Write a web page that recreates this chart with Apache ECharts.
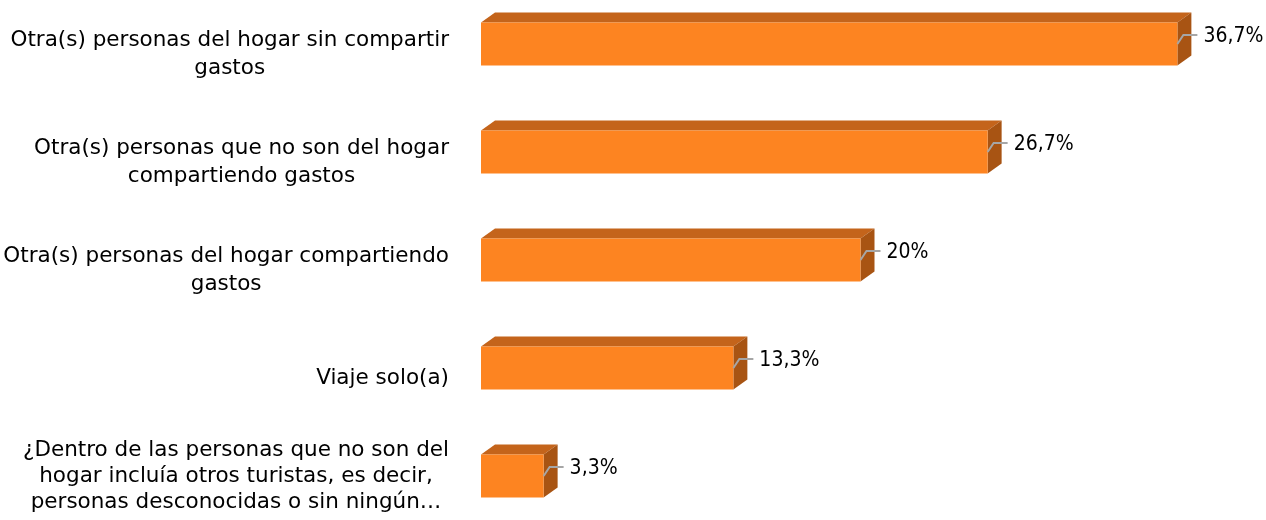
<!DOCTYPE html>
<html>
<head>
<meta charset="utf-8">
<script src="https://cdn.jsdelivr.net/npm/echarts@6/dist/echarts.min.js"></script>
<style>html,body{margin:0;padding:0;background:#fff;overflow:hidden;width:1266px;height:520px;}#c{position:absolute;left:0;top:-10px;width:1266px;height:540px;}</style>
</head>
<body>
<div id="c"></div>
<script>
const categories = [
  "Otra(s) personas del hogar sin compartir\ngastos",
  "Otra(s) personas que no son del hogar\ncompartiendo gastos",
  "Otra(s) personas del hogar compartiendo\ngastos",
  "Viaje solo(a)",
  "¿Dentro de las personas que no son del\nhogar incluía otros turistas, es decir,\npersonas desconocidas o sin ningún…"
];
const values = [36.7, 26.7, 20, 13.3, 3.3];
const valueLabels = ["36,7%", "26,7%", "20%", "13,3%", "3,3%"];

const FRONT = '#FD8421', TOP = '#C4641B', SIDE = '#A85413', LEAD = '#A6A6A6';
const DX = 14, DY = 10;

const chart = echarts.init(document.getElementById('c'), null, {renderer: 'canvas'});
chart.setOption({
  animation: false,
  grid: {left: 481, right: 26, top: 0, bottom: 0, containLabel: false},
  xAxis: {type: 'value', min: 0, max: 40, show: false},
  yAxis: {
    type: 'category', data: categories, inverse: true,
    axisLine: {show: false}, axisTick: {show: false}, splitLine: {show: false},
    axisLabel: {
      margin: 32, align: 'right', padding: [20, 0, 0, 0],
      formatter: function (v, i) {
        const lines = v.split('\n');
        if (lines.length >= 3) {
          return lines.map(l => '{c|' + l + '}').join('\n') + '\n{e| }';
        }
        return lines.map(l => '{a|' + l + '}').join('\n');
      },
      rich: {
        a: {align: 'center', fontFamily: 'DejaVu Sans', fontSize: 21.5, lineHeight: 28, color: '#000'},
        c: {align: 'center', fontFamily: 'DejaVu Sans', fontSize: 21.5, lineHeight: 26, color: '#000'},
        e: {fontSize: 10, lineHeight: 20}
      }
    }
  },
  series: [{
    type: 'custom',
    data: values.map((v, i) => [v, i]),
    renderItem: function (params, api) {
      const v = api.value(0), idx = api.value(1);
      const p0 = api.coord([0, idx]);
      const p1 = api.coord([v, idx]);
      const h = api.size([0, 1])[1] * 0.4;
      const xl = p0[0], xr = p1[0], yc = p1[1];
      const yt = yc - h / 2, yb = yc + h / 2;
      return {
        type: 'group',
        children: [
          {type: 'polygon', shape: {points: [[xl, yt], [xl + DX, yt - DY], [xr + DX, yt - DY], [xr, yt]]}, style: {fill: TOP}},
          {type: 'polygon', shape: {points: [[xr, yt], [xr + DX, yt - DY], [xr + DX, yb - DY], [xr, yb]]}, style: {fill: SIDE}},
          {type: 'rect', shape: {x: xl, y: yt, width: xr - xl, height: h}, style: {fill: FRONT}},
          {type: 'polyline', shape: {points: [[xr, yc], [xr + 6, yc - 9], [xr + 20, yc - 9]]}, style: {stroke: LEAD, lineWidth: 2, fill: null}},
          {type: 'text', style: {x: xr + 26, y: yc - 7, text: valueLabels[params.dataIndex], fontFamily: 'DejaVu Sans Condensed', fontSize: 21, fill: '#000', textAlign: 'left', textVerticalAlign: 'middle'}}
        ]
      };
    }
  }]
});
</script>
</body>
</html>
